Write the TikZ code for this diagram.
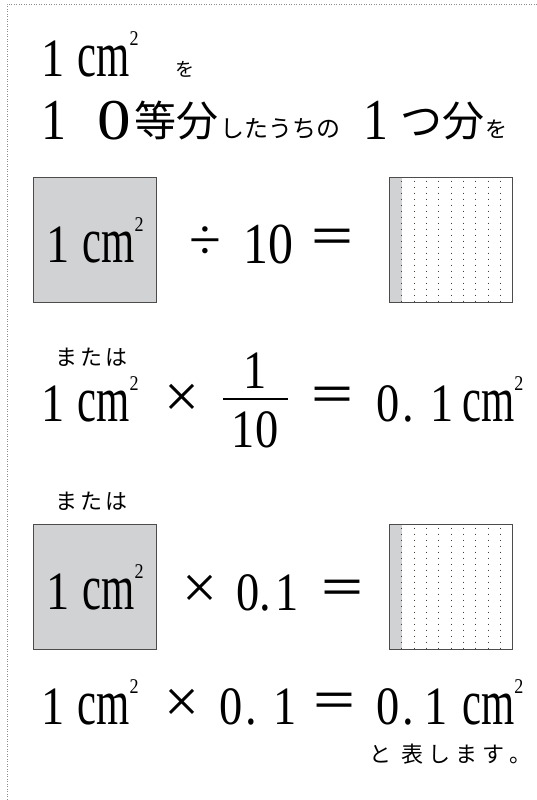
\documentclass[tikz,border=0pt]{standalone}
\usepackage{fontspec}
\usepackage{tikz}
\usetikzlibrary{positioning}
\newfontfamily\numfont[FakeStretch=0.86]{Liberation Serif}
\newfontfamily\numwide{Liberation Serif}
\newfontfamily\jpfont{Noto Sans CJK JP}
\definecolor{unitgray}{HTML}{D1D2D4}
\definecolor{framegray}{HTML}{8C8C8C}
\newcommand\sqcm{\scalebox{.92}[1.2]{cm}\raisebox{31pt}{\fontsize{21}{21}\selectfont 2}}
\newcommand\onecm{1\hspace{13pt}\sqcm}

\begin{document}
\begin{tikzpicture}[
  x=1pt, y=-1pt,
  eq/.style={inner sep=0, anchor=base west, font=\numfont\fontsize{54}{54}\selectfont},
  eqbig/.style={eq, font=\numfont\fontsize{58}{58}\selectfont},
  kana/.style={inner sep=0, anchor=base west, font=\jpfont\fontsize{22}{22}\selectfont},
  kanji/.style={inner sep=0, anchor=base west, font=\jpfont\fontsize{42}{42}\selectfont},
  op/.style={inner sep=0, anchor=center, font=\numwide\fontsize{62}{62}\selectfont},
  eqsign/.style={inner sep=0, anchor=center, font=\jpfont\fontsize{48}{48}\selectfont},
  unitsq/.style={draw=black!70, line width=1pt, fill=unitgray, inner sep=0,
    minimum width=123pt, minimum height=125pt,
    font=\numfont\fontsize{54}{54}\selectfont},
  tenthsq/.style={draw=black!70, line width=1pt, inner sep=0,
    minimum width=123pt, minimum height=125pt,
    path picture={
      \fill[unitgray] (path picture bounding box.north west) rectangle
        ([xshift=12pt]path picture bounding box.south west);
      \foreach \k in {1,...,9}
        \draw[black!75, line width=.8pt, dash pattern=on .8pt off 5.2pt]
          ([xshift=\k*12.3pt, yshift=-3pt]path picture bounding box.north west) --
          ([xshift=\k*12.3pt]path picture bounding box.south west);
    }},
  fracline/.style={line width=1.5pt},
  framedots/.style={draw=framegray, line width=.8pt, dash pattern=on .8pt off 1.7pt}
]
\useasboundingbox (0,0) rectangle (537,800);
\draw[framedots] (537,4) -- (7,4) -- (7,800);

% heading
\node[eq] (lineA) at (41,76) {\onecm};
\node[kana, font=\jpfont\fontsize{19}{19}\selectfont] (woA) at (175,77) {を};
\node[eqbig] (oneB) at (41,139) {1};
\node[eqbig, font=\numwide\fontsize{56}{56}\selectfont] (zeroB) at (97,139) {\scalebox{1.2}[1.03]{0}};
\node[kanji] (touB) at (134,136) {等分};
\node[kana, font=\jpfont\fontsize{24}{24}\selectfont] (kanaB) at (220,137) {したうちの};
\node[eqbig] (oneB2) at (363,139) {1};
\node[kanji] (tsuB) at (400,136) {つ分};
\node[kana] (woB) at (485,137) {を};

% division
\node[unitsq] (sqA) at (95,240) {\onecm};
\node[op, font=\numwide\fontsize{58}{58}\selectfont] (divA) at (205,243) {÷};
\node[eqbig] (tenA) at (243,263) {10};
\node[eqsign] (eqA) at (332,242) {＝};
\node[tenthsq] (sqB) at (451,240) {};

% fraction
\node[kana] (orA) at (55,365) {ま\kern3pt た\kern3pt は};
\node[eq] (lineC) at (41,421) {\onecm};
\node[op] (timesC) at (182,401) {×};
\node[eq, anchor=base] (numC) at (255,388) {1};
\node[eq, anchor=base] (denC) at (255,447) {10};
\draw[fracline] (223,399) -- (288,399);
\node[eqsign] (eqC) at (332,400) {＝};
\node[eq] (zeroC) at (376,421) {0\hspace{3pt}.};
\node[eq] (oneC) at (430,421) {1};
\node[eq] (cmC) at (462,421) {\sqcm};

% decimal
\node[kana] (orB) at (55,509) {ま\kern3pt た\kern3pt は};
\node[unitsq] (sqC) at (95,587) {\onecm};
\node[op] (timesD) at (200,592) {×};
\node[eq] (ptoneD) at (236,610) {0.\hspace{4pt}1};
\node[eqsign] (eqD) at (342,593) {＝};
\node[tenthsq] (sqD) at (451,587) {};

% result
\node[eq] (lineE) at (41,724) {\onecm};
\node[op] (timesE) at (182,706) {×};
\node[eq] (zeroE) at (219,724) {0\hspace{3pt}.};
\node[eq] (oneE) at (273,724) {1};
\node[eqsign] (eqE) at (334,706) {＝};
\node[eq] (zeroE2) at (376,724) {0\hspace{3pt}.};
\node[eq] (oneE2) at (424,724) {1};
\node[eq] (cmE) at (462,724) {\sqcm};
\node[kana] (noteE) at (369,762) {と\kern10pt 表\kern5pt し\kern5pt ま\kern5pt す\kern5pt 。};
\end{tikzpicture}
\end{document}
